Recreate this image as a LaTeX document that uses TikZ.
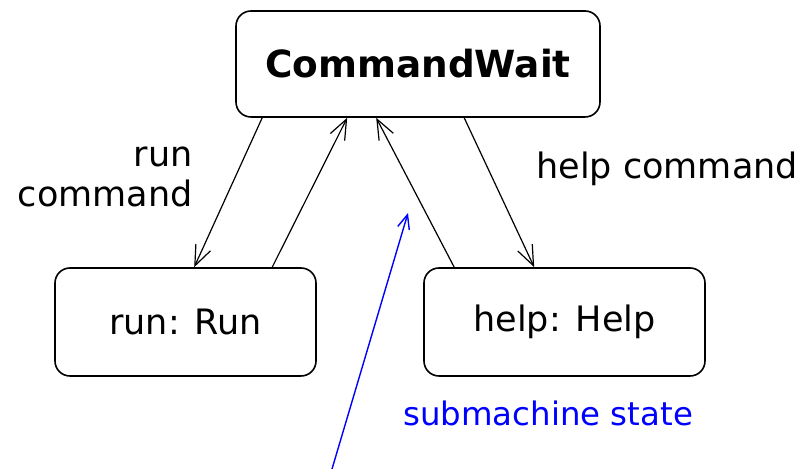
\documentclass[tikz,border=0pt]{standalone}
\usepackage{fontspec}
\setmainfont{DejaVu Sans}
\usepackage{tikz}
\usetikzlibrary{calc,arrows.meta}

\begin{document}
\begin{tikzpicture}[x=0.5pt,y=-0.5pt,
        every node/.style={font=\fontsize{17.5}{20}\selectfont},
        statebox/.style={draw,rounded corners=7.5pt,line width=0.8pt,inner sep=0pt},
        trans/.style={line width=0.6pt,-{Straight Barb[length=10pt,width=8pt]}}]
            % Fix the page to the reference size
            \useasboundingbox (0,0) rectangle (810,469);

            % States
            \node[statebox,minimum width=182pt,minimum height=53pt,font=\fontsize{18.7}{22}\selectfont\bfseries] (stWait) at (418,64)
                {CommandWait};
            \node[statebox,minimum width=130.5pt,minimum height=54pt] (stRun) at (185.5,322)
                {run: Run};
            \node[statebox,minimum width=140.5pt,minimum height=54pt] (stHelp) at (564.5,322)
                {help: Help};

            % Transitions
            \draw[trans] ($(stWait.south west)+(27,0)$) -- ($(stRun.north west)+(140,0)$);
            \draw[trans] ($(stRun.north west)+(218,0)$) -- ($(stWait.south west)+(112,0)$);
            \draw[trans] ($(stHelp.north west)+(31,0)$) -- ($(stWait.south west)+(141,0)$);
            \draw[trans] ($(stWait.south west)+(229,0)$) -- ($(stHelp.north west)+(111,0)$);

            \node[anchor=east,align=right,inner sep=0pt] (lblRun) at (193,177) {run\\command};
            \node[anchor=west,inner sep=0pt] (lblHelp) at (536,169) {help command};

            % Note
            \node[anchor=west,inner sep=0pt,text=blue,font=\fontsize{16.2}{19}\selectfont] (lblSub) at (403,413) {submachine state};
            \coordinate (subTail) at (332,469);
            \coordinate (subTip) at (408,213);
            \draw[blue,line width=0.7pt,-{Straight Barb[length=7pt,width=6pt]}] (subTail) -- (subTip);

        \end{tikzpicture}
\end{document}
